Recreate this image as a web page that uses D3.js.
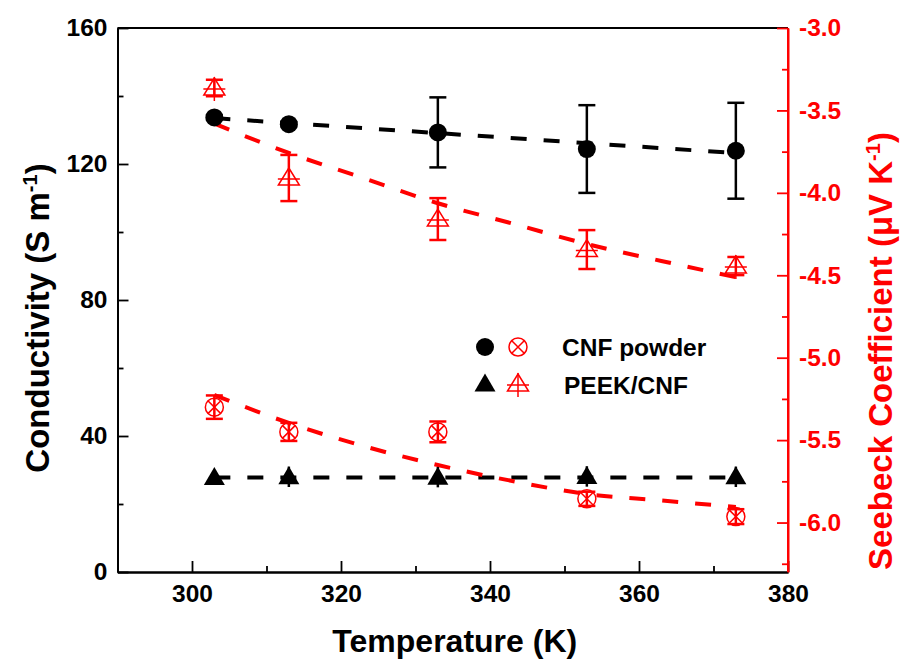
<!DOCTYPE html>
<html><head><meta charset="utf-8">
<script src="https://cdn.jsdelivr.net/npm/d3@7/dist/d3.min.js"></script>
<style>
body{margin:0;background:#fff;}
svg text{font-family:"Liberation Sans",Arial,sans-serif;font-weight:bold;}
</style></head>
<body>
<svg id="chart" width="900" height="664"></svg>
<script>
// ---- data ----
const temps = [303, 313, 333, 353, 373];
const cnfCond = [133.7, 131.7, 129.3, 124.4, 123.9];
const cnfCondErr = [0.6, 0.6, 10.3, 12.9, 14.1];
const peekCond = [27.8, 28.0, 27.9, 28.1, 28.0];
const peekCondErr = [0.0, 3.0, 3.0, 3.0, 3.0];
const cnfSeebeck = [-5.30, -5.45, -5.45, -5.856, -5.964];
const cnfSeebeckErr = [0.071, 0.055, 0.063, 0.043, 0.045];
const peekSeebeck = [-3.364, -3.91, -4.159, -4.344, -4.444];
const peekSeebeckErr = [0.05, 0.14, 0.127, 0.118, 0.055];
const fitTemps = [303, 373];
const cnfCondFit = [133.5, 123.2];
const peekCondFit = [27.8, 27.8];
const seebeckFitTemps = [303, 313, 323, 333, 343, 353, 363, 373];
const peekSeebeckFit = [-3.58, -3.758, -3.91, -4.063, -4.186, -4.31, -4.413, -4.512];
const cnfSeebeckFit = [-5.226, -5.396, -5.536, -5.651, -5.748, -5.827, -5.866, -5.906];
const xTicks = [300, 320, 340, 360, 380];
const xMinor = [290, 310, 330, 350, 370];
const yTicks = [0, 40, 80, 120, 160];
const yMinor = [20, 60, 100, 140];
const y2Ticks = [-3.0, -3.5, -4.0, -4.5, -5.0, -5.5, -6.0];
const y2Minor = [-3.25, -3.75, -4.25, -4.75, -5.25, -5.75, -6.25];
const legendLabels = ["CNF powder", "PEEK/CNF"];

// ---- layout ----
const L = 117.5, R = 788, T = 28, B = 572;
const RED = "#ff0000";
const svg = d3.select("#chart");
const x = d3.scaleLinear().domain([290, 380]).range([L, R]);
const y = d3.scaleLinear().domain([0, 160]).range([B, T]);
const y2 = d3.scaleLinear().domain([-6.3, -3.0]).range([B, T]);

// frame top
svg.append("line").attr("x1", L).attr("x2", R).attr("y1", T).attr("y2", T)
  .attr("stroke", "#000").attr("stroke-width", 2);

function styleAxis(g, color, fs) {
  g.select(".domain").attr("stroke", color).attr("stroke-width", 2);
  g.selectAll(".tick line").attr("stroke", color).attr("stroke-width", 1.8);
  g.selectAll(".tick text").attr("fill", color).style("font-size", fs + "px");
}

// bottom axis
const gx = svg.append("g").attr("transform", `translate(0,${B})`)
  .call(d3.axisBottom(x).tickValues(xTicks).tickSize(-11).tickPadding(13).tickSizeOuter(0).tickFormat(d3.format("d")));
styleAxis(gx, "#000", 24.5);
const gxm = svg.append("g").attr("transform", `translate(0,${B})`)
  .call(d3.axisBottom(x).tickValues(xMinor).tickSize(-6).tickSizeOuter(0).tickFormat(""));
styleAxis(gxm, "#000", 24);

// left axis
const gy = svg.append("g").attr("transform", `translate(${L},0)`)
  .call(d3.axisLeft(y).tickValues(yTicks).tickSize(-11).tickPadding(10).tickSizeOuter(0));
styleAxis(gy, "#000", 24.5);
const gym = svg.append("g").attr("transform", `translate(${L},0)`)
  .call(d3.axisLeft(y).tickValues(yMinor).tickSize(-6).tickSizeOuter(0).tickFormat(""));
styleAxis(gym, "#000", 24);

// right axis
const gy2 = svg.append("g").attr("transform", `translate(${R},0)`)
  .call(d3.axisRight(y2).tickValues(y2Ticks).tickSize(-11).tickPadding(11).tickSizeOuter(0).tickFormat(d => d.toFixed(1)));
styleAxis(gy2, RED, 24.5);
const gy2m = svg.append("g").attr("transform", `translate(${R},0)`)
  .call(d3.axisRight(y2).tickValues(y2Minor).tickSize(-6).tickSizeOuter(0).tickFormat(""));
styleAxis(gy2m, RED, 24);
gy2.select(".domain").attr("d", `M0,${B}V${T}`);

// axis titles
svg.append("text").attr("x", (L + R) / 2 + 2).attr("y", 652).attr("text-anchor", "middle")
  .style("font-size", "32px").text("Temperature (K)");

const lt = svg.append("text").attr("transform", `translate(49,${(T + B) / 2 + 18}) rotate(-90)`)
  .attr("text-anchor", "middle").style("font-size", "33px");
lt.append("tspan").text("Conductivity (S m");
lt.append("tspan").attr("dy", -12).style("font-size", "20px").text("-1");
lt.append("tspan").attr("dy", 12).text(")");

const rt = svg.append("text").attr("transform", `translate(892,${(T + B) / 2 + 51}) rotate(-90)`)
  .attr("text-anchor", "middle").style("font-size", "33px").attr("fill", RED);
rt.append("tspan").text("Seebeck Coefficient (\u03bcV K");
rt.append("tspan").attr("dy", -12).style("font-size", "20px").text("-1");
rt.append("tspan").attr("dy", 12).text(")");

// ---- fit lines ----
const plot = svg.append("g");
function fitLine(ts, vs, sc, color, curve) {
  const line = d3.line().x((d, i) => x(ts[i])).y(d => sc(d)).curve(curve || d3.curveLinear);
  plot.append("path").datum(vs).attr("d", line).attr("fill", "none")
    .attr("stroke", color).attr("stroke-width", 4).attr("stroke-dasharray", "16,17");
}
fitLine(fitTemps, cnfCondFit, y, "#000");
fitLine(fitTemps, peekCondFit, y, "#000");
fitLine(seebeckFitTemps, peekSeebeckFit, y2, RED, d3.curveMonotoneX);
fitLine(seebeckFitTemps, cnfSeebeckFit, y2, RED, d3.curveMonotoneX);

// ---- error bars ----
function errBars(vals, errs, sc, color, caps) {
  const g = plot.append("g").attr("stroke", color).attr("stroke-width", 2.5);
  temps.forEach((t, i) => {
    if (!errs[i]) return;
    const cx = x(t), y1 = sc(vals[i] + errs[i]), y0 = sc(vals[i] - errs[i]);
    g.append("line").attr("x1", cx).attr("x2", cx).attr("y1", y1).attr("y2", y0);
    if (caps) {
      g.append("line").attr("x1", cx - 8.5).attr("x2", cx + 8.5).attr("y1", y1).attr("y2", y1);
      g.append("line").attr("x1", cx - 8.5).attr("x2", cx + 8.5).attr("y1", y0).attr("y2", y0);
    }
  });
}
errBars(cnfCond, cnfCondErr, y, "#000", true);
errBars(peekCond, peekCondErr, y, "#000", false);
errBars(cnfSeebeck, cnfSeebeckErr, y2, RED, true);
errBars(peekSeebeck, peekSeebeckErr, y2, RED, true);

// ---- markers ----
function circleFilled(g, cx, cy) {
  g.append("circle").attr("cx", cx).attr("cy", cy).attr("r", 9).attr("fill", "#000");
}
function triFilled(g, cx, cy) {
  g.append("path").attr("d", `M${cx},${cy - 10.5}L${cx + 10.5},${cy + 7.5}L${cx - 10.5},${cy + 7.5}Z`).attr("fill", "#000");
}
function circleX(g, cx, cy) {
  const r = 9, k = r * 0.72;
  g.append("circle").attr("cx", cx).attr("cy", cy).attr("r", r).attr("fill", "none").attr("stroke", RED).attr("stroke-width", 1.5);
  g.append("path").attr("d", `M${cx - k},${cy - k}L${cx + k},${cy + k}M${cx - k},${cy + k}L${cx + k},${cy - k}`)
    .attr("stroke", RED).attr("stroke-width", 1.5);
}
function triPlus(g, cx, cy) {
  g.append("path").attr("d", `M${cx},${cy - 10}L${cx + 10.5},${cy + 7}L${cx - 10.5},${cy + 7}Z`)
    .attr("fill", "none").attr("stroke", RED).attr("stroke-width", 1.5);
  g.append("path").attr("d", `M${cx},${cy - 11}V${cy + 13}M${cx - 11},${cy + 1}H${cx + 11}`)
    .attr("stroke", RED).attr("stroke-width", 1.5);
}
const mk = plot.append("g");
temps.forEach((t, i) => {
  circleFilled(mk, x(t), y(cnfCond[i]));
  triFilled(mk, x(t), y(peekCond[i]));
  circleX(mk, x(t), y2(cnfSeebeck[i]));
  triPlus(mk, x(t), y2(peekSeebeck[i]));
});

// ---- legend ----
const lg = svg.append("g");
circleFilled(lg, 485, 347);
circleX(lg, 518, 347);
lg.append("text").attr("x", 562).attr("y", 356).style("font-size", "24.5px").text(legendLabels[0]);
triFilled(lg, 485, 384);
triPlus(lg, 518, 384);
lg.append("text").attr("x", 564).attr("y", 394).style("font-size", "24.5px").text(legendLabels[1]);
</script>
</body></html>
